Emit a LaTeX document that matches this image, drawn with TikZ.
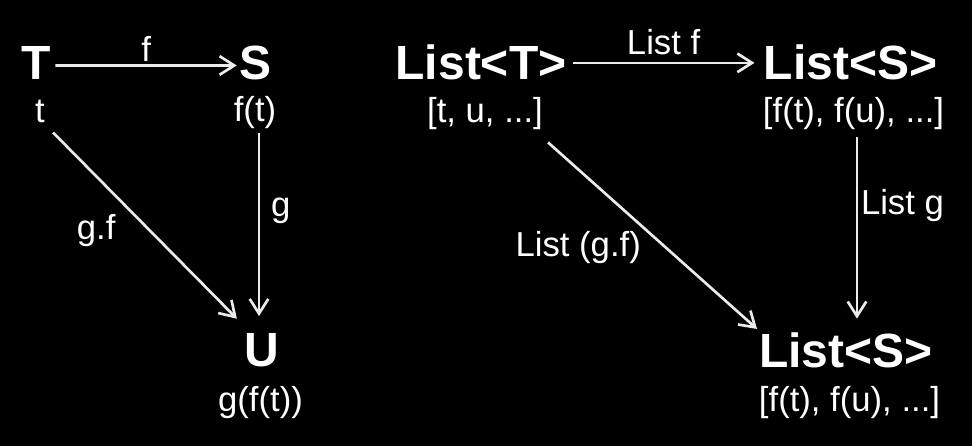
\documentclass[tikz,border=0pt]{standalone}
\usepackage{fontspec}
\setmainfont{Liberation Sans}
\usetikzlibrary{arrows.meta}

\begin{document}
\begin{tikzpicture}[x = 0.75pt, y = -0.75pt,
        obj/.style = {font = \bfseries\fontsize{36}{40}\selectfont, text = white, inner sep = 0pt, anchor = base},
        elem/.style = {font = \fontsize{26}{30}\selectfont, text = white, inner sep = 0pt, anchor = base},
        lbl/.style = {font = \fontsize{26}{30}\selectfont, text = white, inner sep = 0pt},
        arr/.style = {draw = white!92!black, line width = 2pt, -{Straight Barb[length = 11pt, width = 14pt]}}]
        \fill [black] (0,0) rectangle (972,446);
        \useasboundingbox (0,0) rectangle (972,446);

        \node [obj] (T) at (36.5,79) {T};
        \node [obj] (S) at (256,79) {S};
        \node [obj] (U) at (261.5,366) {U};
        \node [elem] (sT) at (40,122) {t};
        \node [elem] (sS) at (255,121) {f(t)};
        \node [elem] (sU) at (260.5,411) {g(f(t))};

        \node [obj] (LT) at (481,79) {List<T>};
        \node [obj] (LS) at (850.5,79) {List<S>};
        \node [obj] (LU) at (846,367) {List<S>};
        \node [elem] (sLT) at (485,122) {[t, u, ...]};
        \node [elem] (sLS) at (853.5,122) {[f(t), f(u), ...]};
        \node [elem] (sLU) at (849.5,411) {[f(t), f(u), ...]};

        \draw [arr] ([shift={(4,3)}]T.east) -- node [lbl, above = 2pt] {f} ([shift={(-3,3)}]S.west);
        \coordinate (gA) at ([shift={(4,5)}]sS.south);
        \draw [arr, shorten >= 12.5pt] (gA) -- node [lbl, pos = 0.39, right = 8pt] {g} (gA |- U.north);
        \draw [arr] ([shift={(8,10)}]sT.south east) -- node [lbl, pos = 0.39, below left = 6pt] {g.f} ([shift={(-7,-14)}]U.north west);

        \draw [arr] ([shift={(6,1)}]LT.east) -- node [lbl, above = 5pt] {List f} ([shift={(-9,1)}]LS.west);
        \coordinate (lgA) at ([shift={(3.5,8)}]sLS.south);
        \draw [arr, shorten >= 10pt] (lgA) -- node [lbl, pos = 0.35, right = 2pt] {List g} (lgA |- LU.north);
        \draw [arr] ([shift={(5,13)}]sLT.south east) -- node [lbl, pos = 0.46, below left = 1.5pt] {List (g.f)} ([shift={(-2,-3)}]LU.north west);
\end{tikzpicture}
\end{document}
